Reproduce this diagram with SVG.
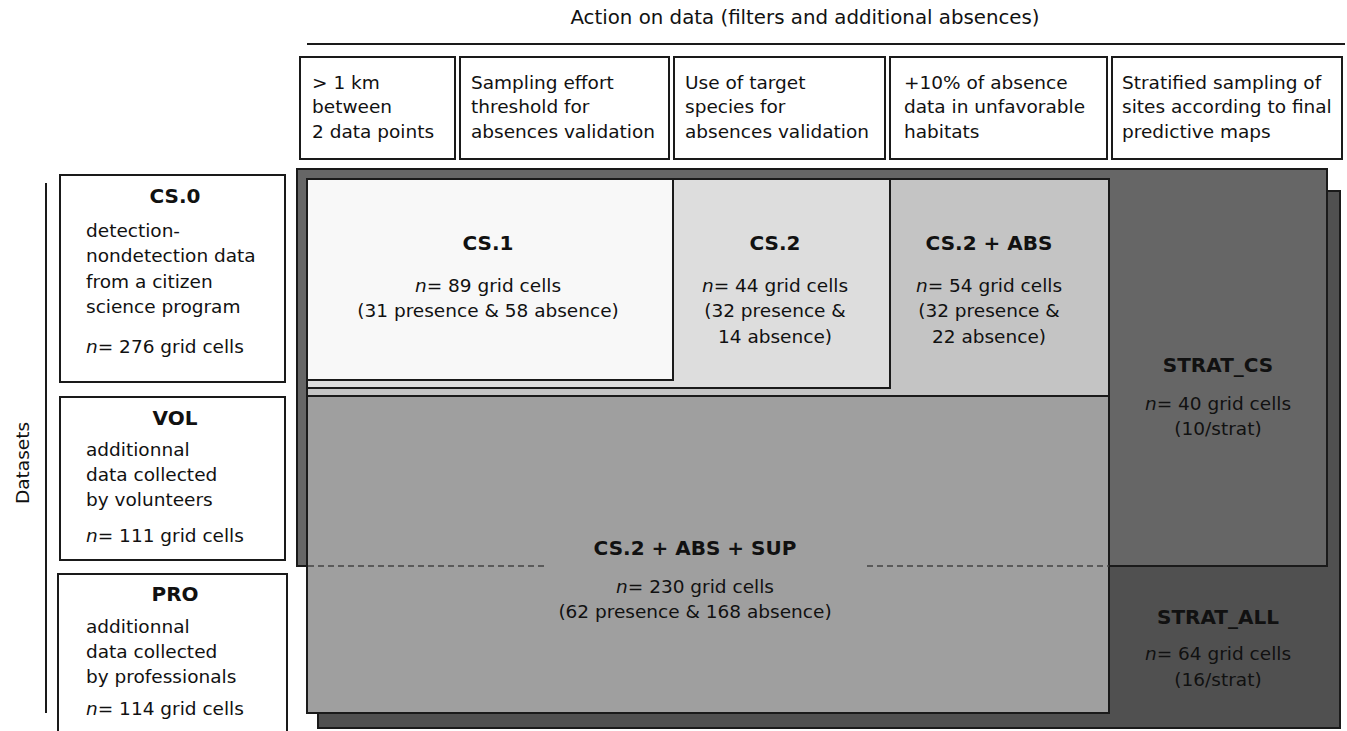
<svg xmlns="http://www.w3.org/2000/svg" width="1347" height="731" viewBox="0 0 1347 731">
<style>
text{font-family:"DejaVu Sans","Liberation Sans",sans-serif;fill:#111;}
.t{font-size:18.5px;}
.h{font-size:20px;font-weight:bold;}
.c{text-anchor:middle;}
.box{fill:#fff;stroke:#1a1a1a;stroke-width:2;}
.reg{stroke:#1a1a1a;stroke-width:2;}
.ln{stroke:#1a1a1a;stroke-width:2;fill:none;}
</style>
<rect width="1347" height="731" fill="#fff"/>
<g id="header">
<text class="c" x="805" y="24" font-size="19.8">Action on data (filters and additional absences)</text>
<line class="ln" x1="307" y1="44" x2="1345" y2="44" stroke-width="1.5"/>
</g>
<g id="action1"><rect class="box" x="300" y="57" width="155" height="102"/>
<text class="t" x="312" y="89">&gt; 1 km</text><text class="t" x="312" y="113">between</text><text class="t" x="312" y="138">2 data points</text></g>
<g id="action2"><rect class="box" x="460" y="57" width="209" height="102"/>
<text class="t" x="471" y="89">Sampling effort</text><text class="t" x="471" y="113">threshold for</text><text class="t" x="471" y="138">absences validation</text></g>
<g id="action3"><rect class="box" x="674" y="57" width="211" height="102"/>
<text class="t" x="685" y="89">Use of target</text><text class="t" x="685" y="113">species for</text><text class="t" x="685" y="138">absences validation</text></g>
<g id="action4"><rect class="box" x="890" y="57" width="217" height="102"/>
<text class="t" x="904" y="89">+10% of absence</text><text class="t" x="904" y="113">data in unfavorable</text><text class="t" x="904" y="138">habitats</text></g>
<g id="action5"><rect class="box" x="1112" y="57" width="230" height="102"/>
<text class="t" x="1122" y="89">Stratified sampling of</text><text class="t" x="1122" y="113">sites according to final</text><text class="t" x="1122" y="138">predictive maps</text></g>
<g id="datasets-axis">
<text class="t c" transform="translate(29,463) rotate(-90)">Datasets</text>
<line class="ln" x1="46" y1="183" x2="46" y2="713"/>
</g>
<g id="cs0"><rect class="box" x="60" y="175" width="225" height="207"/>
<text class="h c" x="175" y="203">CS.0</text>
<text class="t" x="86" y="237">detection-</text><text class="t" x="86" y="262">nondetection data</text><text class="t" x="86" y="288">from a citizen</text><text class="t" x="86" y="313">science program</text>
<text class="t" x="86" y="353"><tspan font-style="italic">n</tspan>= 276 grid cells</text></g>
<g id="vol"><rect class="box" x="60" y="397" width="225" height="163"/>
<text class="h c" x="175" y="425">VOL</text>
<text class="t" x="86" y="456">additionnal</text><text class="t" x="86" y="481">data collected</text><text class="t" x="86" y="506">by volunteers</text>
<text class="t" x="86" y="542"><tspan font-style="italic">n</tspan>= 111 grid cells</text></g>
<g id="pro"><rect class="box" x="58" y="574" width="229" height="165"/>
<text class="h c" x="175" y="601">PRO</text>
<text class="t" x="86" y="633">additionnal</text><text class="t" x="86" y="658">data collected</text><text class="t" x="86" y="683">by professionals</text>
<text class="t" x="86" y="715"><tspan font-style="italic">n</tspan>= 114 grid cells</text></g>
<g id="strat-all"><rect class="reg" x="318" y="191" width="1022" height="537" fill="#505050"/></g>
<g id="strat-cs"><rect class="reg" x="297" y="169" width="1030" height="397" fill="#666666"/></g>
<g id="cs2-abs-sup"><rect class="reg" x="307" y="396" width="802" height="317" fill="#9f9f9f"/></g>
<g id="cs2-abs"><rect class="reg" x="307" y="179" width="802" height="217" fill="#c4c4c4"/></g>
<g id="cs2"><rect class="reg" x="307" y="179" width="583" height="209" fill="#dddddd"/></g>
<g id="cs1"><rect class="reg" x="307" y="179" width="366" height="201" fill="#f8f8f8"/></g>
<g id="connectors">
<line x1="308" y1="566" x2="545" y2="566" stroke="#444" stroke-width="1.5" stroke-dasharray="6 4"/>
<line x1="867" y1="566" x2="1109" y2="566" stroke="#444" stroke-width="1.5" stroke-dasharray="6 4"/>
</g>
<g id="labels">
<text class="h c" x="488" y="250">CS.1</text>
<text class="t c" x="488" y="292"><tspan font-style="italic">n</tspan>= 89 grid cells</text>
<text class="t c" x="488" y="317">(31 presence &amp; 58 absence)</text>
<text class="h c" x="775" y="250">CS.2</text>
<text class="t c" x="775" y="292"><tspan font-style="italic">n</tspan>= 44 grid cells</text>
<text class="t c" x="775" y="317">(32 presence &amp;</text>
<text class="t c" x="775" y="343">14 absence)</text>
<text class="h c" x="989" y="250">CS.2 + ABS</text>
<text class="t c" x="989" y="292"><tspan font-style="italic">n</tspan>= 54 grid cells</text>
<text class="t c" x="989" y="317">(32 presence &amp;</text>
<text class="t c" x="989" y="343">22 absence)</text>
<text class="h c" x="695" y="555">CS.2 + ABS + SUP</text>
<text class="t c" x="695" y="593"><tspan font-style="italic">n</tspan>= 230 grid cells</text>
<text class="t c" x="695" y="618">(62 presence &amp; 168 absence)</text>
<text class="h c" x="1218" y="372">STRAT_CS</text>
<text class="t c" x="1218" y="410"><tspan font-style="italic">n</tspan>= 40 grid cells</text>
<text class="t c" x="1218" y="435">(10/strat)</text>
<text class="h c" x="1218" y="624">STRAT_ALL</text>
<text class="t c" x="1218" y="660"><tspan font-style="italic">n</tspan>= 64 grid cells</text>
<text class="t c" x="1218" y="686">(16/strat)</text>
</g>
</svg>
